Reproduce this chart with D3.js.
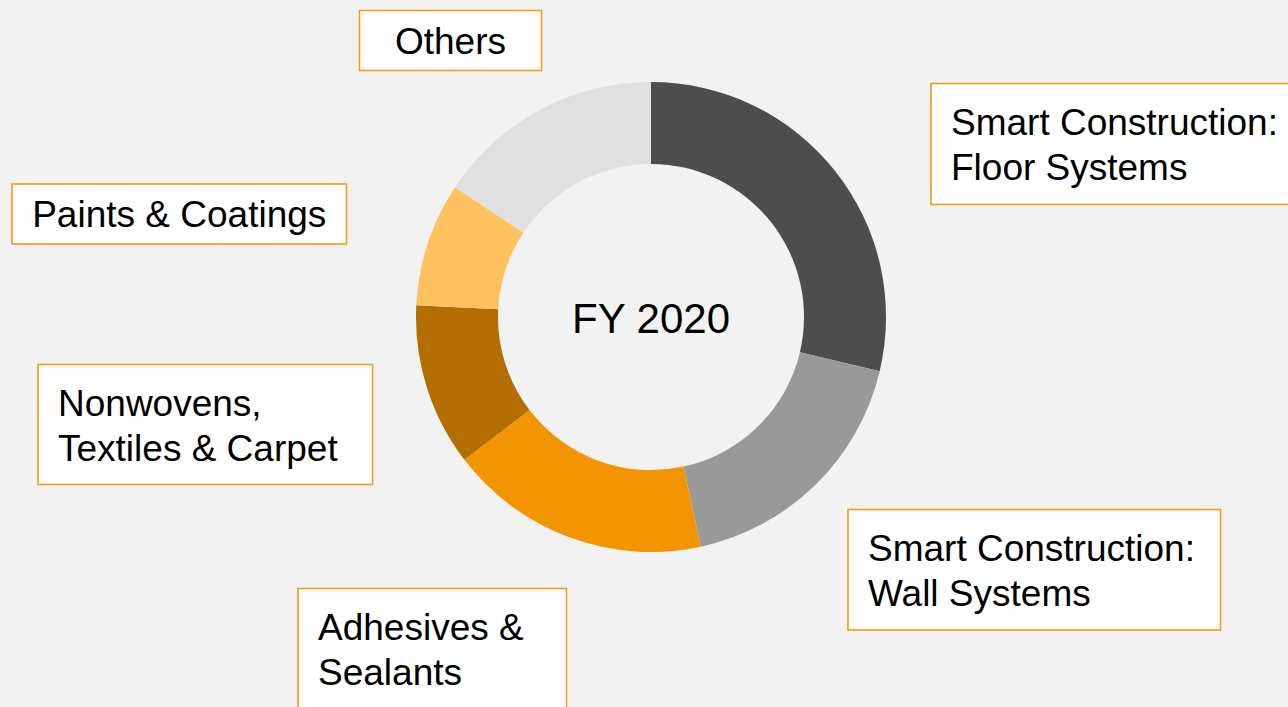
<!DOCTYPE html>
<html>
<head>
<meta charset="utf-8">
<script src="https://cdn.jsdelivr.net/npm/d3@7"></script>
<style>
  html, body { margin: 0; padding: 0; background: #f2f2f2; }
  svg { display: block; }
  text { font-family: "Liberation Sans", Arial, sans-serif; }
</style>
</head>
<body>
<svg id="chart" width="1288" height="707"></svg>
<script>
// ---- data ----
const categories = [
  "Smart Construction: Floor Systems",
  "Smart Construction: Wall Systems",
  "Adhesives & Sealants",
  "Nonwovens, Textiles & Carpet",
  "Paints & Coatings",
  "Others"
];
const values = [28.7, 17.9, 18.0, 11.2, 8.5, 15.7];
const labelLines = [
  ["Smart Construction:", "Floor Systems"],
  ["Smart Construction:", "Wall Systems"],
  ["Adhesives &", "Sealants"],
  ["Nonwovens,", "Textiles & Carpet"],
  ["Paints & Coatings"],
  ["Others"]
];
const centerTitle = "FY 2020";

// ---- styles / layout ----
const colors = ["#4d4d4d", "#999999", "#f39500", "#b36d00", "#ffc05e", "#e0e0e0"];
const boxes = [
  { x: 931, y: 83.5, w: 380, h: 121, align: "left" },
  { x: 848, y: 509.5, w: 372.5, h: 120.5, align: "left" },
  { x: 298, y: 588.5, w: 268.5, h: 140, align: "left" },
  { x: 38, y: 364.5, w: 334.5, h: 120, align: "left" },
  { x: 12, y: 184, w: 334.5, h: 60, align: "center" },
  { x: 359.5, y: 10.5, w: 182, h: 60, align: "center" }
];
const cx = 651, cy = 317, rOuter = 235, rInner = 153;

const svg = d3.select("#chart");
svg.append("rect").attr("width", 1288).attr("height", 707).attr("fill", "#f2f2f2");

const data = categories.map((c, i) => ({ name: c, value: values[i], i }));
const pie = d3.pie().sort(null).value(d => d.value);
const arc = d3.arc().innerRadius(rInner).outerRadius(rOuter);

const g = svg.append("g").attr("transform", `translate(${cx},${cy})`);
g.selectAll("path")
  .data(pie(data))
  .join("path")
  .attr("d", arc)
  .attr("fill", d => colors[d.data.i]);

g.append("text")
  .attr("text-anchor", "middle")
  .attr("y", 16)
  .attr("font-size", 42)
  .attr("fill", "#000")
  .text(centerTitle);

// label boxes
const fontSize = 37, lineH = 45, padL = 20;
data.forEach((d, i) => {
  const b = boxes[i];
  const lg = svg.append("g");
  lg.append("rect")
    .attr("x", b.x).attr("y", b.y).attr("width", b.w).attr("height", b.h)
    .attr("fill", "#ffffff")
    .attr("stroke", "#f39a1a")
    .attr("stroke-width", 1.6);
  const lines = labelLines[i];
  const firstBase = lines.length === 1 ? b.y + b.h / 2 + 13 : b.y + 51;
  lines.forEach((ln, k) => {
    lg.append("text")
      .attr("x", b.align === "center" ? b.x + b.w / 2 : b.x + padL)
      .attr("y", firstBase + k * lineH)
      .attr("text-anchor", b.align === "center" ? "middle" : "start")
      .attr("font-size", fontSize)
      .attr("fill", "#000")
      .text(ln);
  });
});
</script>
</body>
</html>
